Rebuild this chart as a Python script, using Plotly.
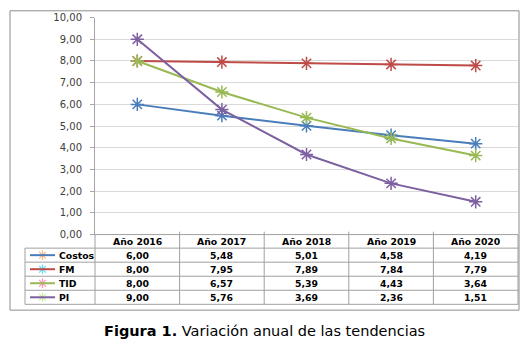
import plotly.graph_objects as go

# ---- data ----
years = ["Año 2016", "Año 2017", "Año 2018", "Año 2019", "Año 2020"]
series_names = ["Costos", "FM", "TID", "PI"]
costos = [6.00, 5.48, 5.01, 4.58, 4.19]
fm = [8.00, 7.95, 7.89, 7.84, 7.79]
tid = [8.00, 6.57, 5.39, 4.43, 3.64]
pi = [9.00, 5.76, 3.69, 2.36, 1.51]
y_ticks = [0, 1, 2, 3, 4, 5, 6, 7, 8, 9, 10]
caption_bold = "Figura 1."
caption_text = "Variación anual de las tendencias"

values = [costos, fm, tid, pi]
colors = ["#4A7EBB", "#BE4B48", "#98B954", "#7D60A0"]

W, H = 529, 351
# plot area in pixels
PX0, PX1 = 95, 518
PY_TOP, PY_ZERO = 13, 237
# table
ROW_Y = [237, 251, 265.5, 280, 294.5, 309]
LEG_X0 = 25
BORDER = dict(x0=10, x1=519, y0=6, y1=315)

FONT = "DejaVu Sans"
GRID = "#D9D9D9"
TBL = "#A0A0A0"


def px(x):
    return x / W


def py(y):
    return 1 - y / H


fig = go.Figure()

for name, vals, col in zip(series_names, values, colors):
    fig.add_trace(go.Scatter(
        x=years, y=vals, name=name, mode="lines+markers",
        line=dict(color=col, width=2),
        marker=dict(symbol="asterisk-open", size=11, line=dict(color=col, width=1.5)),
        showlegend=False, xaxis="x", yaxis="y",
    ))

shapes = []
# outer border
shapes.append(dict(type="rect", xref="paper", yref="paper",
                   x0=px(BORDER["x0"]), x1=px(BORDER["x1"]),
                   y0=py(BORDER["y1"]), y1=py(BORDER["y0"]),
                   line=dict(color="#8C8C8C", width=1)))

ncol = len(years)
colw = (PX1 - PX0) / ncol
# table horizontal lines
for i, yy in enumerate(ROW_Y):
    xstart = PX0 if i == 0 else LEG_X0
    shapes.append(dict(type="line", xref="paper", yref="paper",
                       x0=px(xstart), x1=px(PX1), y0=py(yy), y1=py(yy),
                       line=dict(color=TBL, width=1)))
# table vertical lines
for j in range(ncol + 1):
    xx = PX0 + j * colw
    shapes.append(dict(type="line", xref="paper", yref="paper",
                       x0=px(xx), x1=px(xx), y0=py(ROW_Y[0] - (3 if 0 < j < ncol else 0)), y1=py(ROW_Y[-1]),
                       line=dict(color=TBL, width=1)))
shapes.append(dict(type="line", xref="paper", yref="paper",
                   x0=px(LEG_X0), x1=px(LEG_X0), y0=py(ROW_Y[1]), y1=py(ROW_Y[-1]),
                   line=dict(color=TBL, width=1)))

annotations = []
# header
for j, yr in enumerate(years):
    annotations.append(dict(x=px(PX0 + (j + 0.5) * colw), y=py((ROW_Y[0] + ROW_Y[1]) / 2),
                            xref="paper", yref="paper", text="<b>%s</b>" % yr, showarrow=False,
                            font=dict(family=FONT, size=9.3, color="black"),
                            xanchor="center", yanchor="middle"))
# values
for i, (name, vals, col) in enumerate(zip(series_names, values, colors)):
    yc = (ROW_Y[i + 1] + ROW_Y[i + 2]) / 2
    for j, v in enumerate(vals):
        annotations.append(dict(x=px(PX0 + (j + 0.5) * colw), y=py(yc),
                                xref="paper", yref="paper",
                                text="<b>%s</b>" % ("%.2f" % v).replace(".", ","),
                                showarrow=False, font=dict(family=FONT, size=9.3, color="black"),
                                xanchor="center", yanchor="middle"))
    annotations.append(dict(x=px(57), y=py(yc), xref="paper", yref="paper",
                            text="<b>%s</b>" % name, showarrow=False,
                            font=dict(family=FONT, size=9.3, color="black"),
                            xanchor="left", yanchor="middle"))
    shapes.append(dict(type="line", xref="paper", yref="paper",
                       x0=px(30), x1=px(55), y0=py(yc), y1=py(yc),
                       line=dict(color=col, width=2)))
    fig.add_trace(go.Scatter(x=[42.5], y=[yc], mode="markers", xaxis="x2", yaxis="y2",
                             marker=dict(symbol="asterisk-open", size=8, line=dict(color=col, width=1.2)),
                             opacity=0.7, showlegend=False, hoverinfo="skip"))

annotations.append(dict(x=px(264), y=py(337), xref="paper", yref="paper",
                        text="<b>%s</b> %s" % (caption_bold, caption_text), showarrow=False,
                        font=dict(family=FONT, size=14.5, color="black"),
                        xanchor="center", yanchor="middle"))

fig.update_layout(
    width=W, height=H, margin=dict(l=0, r=0, t=0, b=0),
    paper_bgcolor="white", plot_bgcolor="rgba(0,0,0,0)",
    separators=",.",
    xaxis=dict(domain=[px(PX0), px(PX1)], type="category", range=[-0.5, 4.5],
               showticklabels=False, showgrid=False, zeroline=False, showline=False, ticks=""),
    yaxis=dict(domain=[py(PY_ZERO), py(PY_TOP)], range=[0, 10], tickvals=y_ticks,
               tickformat=".2f", showgrid=True, gridcolor=GRID, gridwidth=1,
               zeroline=False, showline=True, linecolor="#A6A6A6", linewidth=1,
               ticks="outside", ticklen=4, tickcolor="#A6A6A6",
               ticklabelstandoff=6,
               tickfont=dict(family=FONT, size=10, color="#404040")),
    xaxis2=dict(domain=[0, 1], range=[0, W], visible=False, anchor="y2", fixedrange=True),
    yaxis2=dict(domain=[0, 1], range=[H, 0], visible=False, anchor="x2", fixedrange=True),
    shapes=shapes, annotations=annotations,
)

fig.write_html("out.html")
